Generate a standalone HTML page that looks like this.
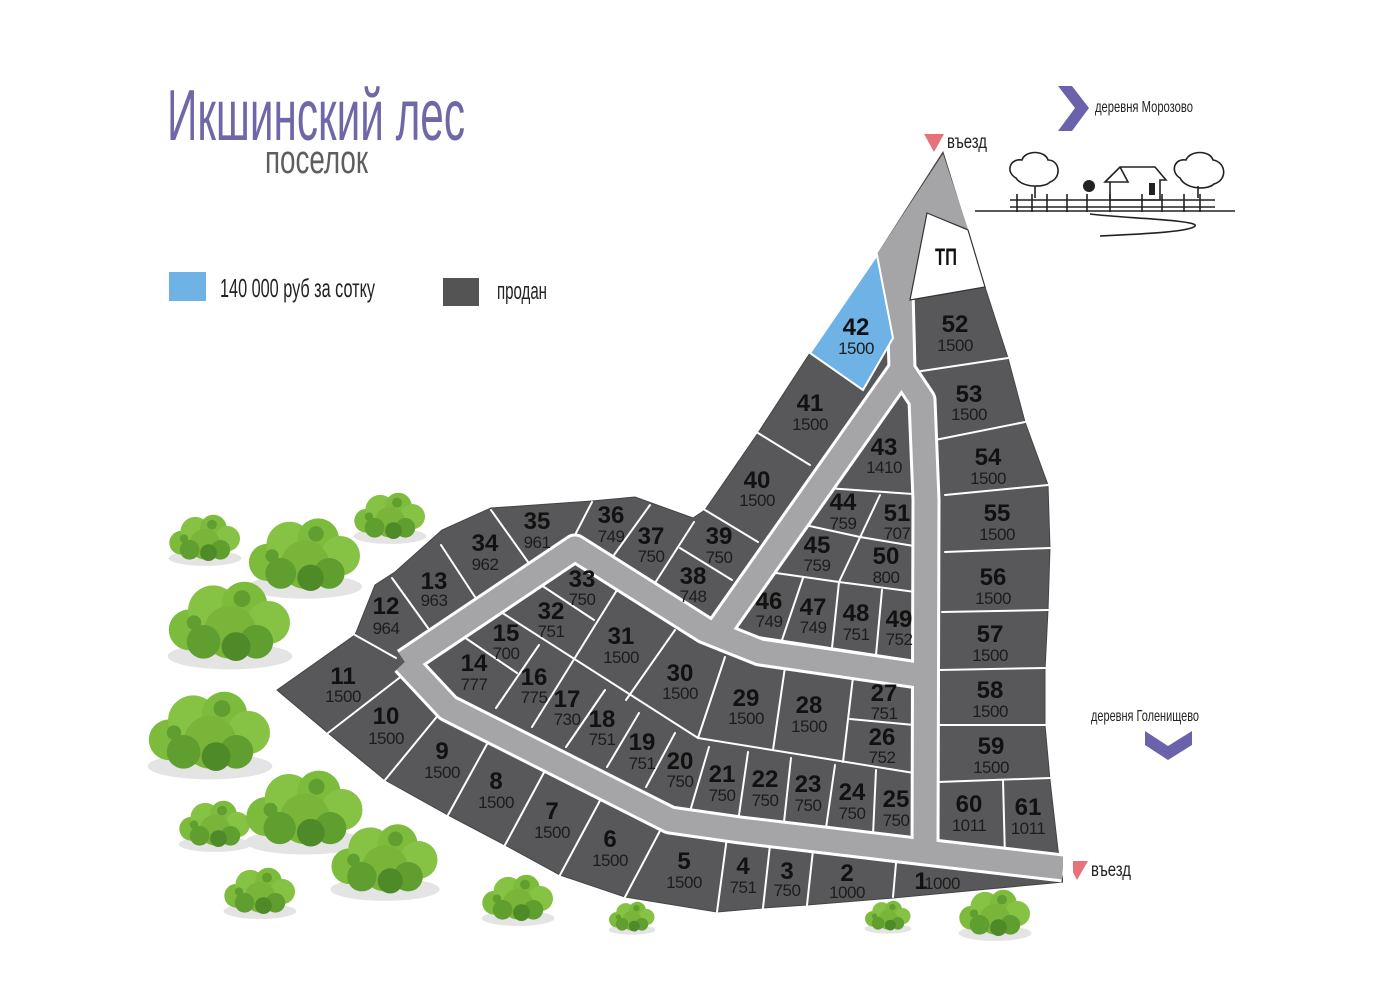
<!DOCTYPE html>
<html><head><meta charset="utf-8">
<style>
html,body{margin:0;padding:0;background:#fff;}
svg{display:block;}
.n{font-family:"Liberation Sans Narrow","Liberation Sans",sans-serif;font-weight:bold;font-size:24px;fill:#111;text-anchor:middle;}
.a{font-family:"Liberation Sans Narrow","Liberation Sans",sans-serif;font-size:17px;fill:#1c1c1c;text-anchor:middle;letter-spacing:-0.5px;}
.t{font-family:"Liberation Sans Narrow","Liberation Sans",sans-serif;}
</style></head>
<body>
<svg width="1396" height="991" viewBox="0 0 1396 991" xmlns="http://www.w3.org/2000/svg">
<defs>
<g id="bush">
<ellipse cx="0" cy="26" rx="52" ry="11" fill="#e4e4e4"/>
<circle cx="-34" cy="4" r="17" fill="#7dbb3d"/>
<circle cx="-14" cy="-12" r="21" fill="#86c243"/>
<circle cx="12" cy="-17" r="19" fill="#7dbb3d"/>
<circle cx="32" cy="-2" r="18" fill="#86c243"/>
<circle cx="0" cy="6" r="22" fill="#7ab53a"/>
<circle cx="-22" cy="14" r="14" fill="#5f9e2f"/>
<circle cx="22" cy="14" r="14" fill="#5f9e2f"/>
<circle cx="5" cy="18" r="12" fill="#4f8a28"/>
<circle cx="10" cy="-22" r="7" fill="#5f9e2f"/>
<circle cx="-30" cy="-2" r="6" fill="#5f9e2f"/>
</g>
</defs>

<text class="t" x="167" y="140" font-size="72" fill="#6f68a8" textLength="298" lengthAdjust="spacingAndGlyphs">Икшинский лес</text>
<text class="t" x="265" y="173" font-size="40" fill="#5e5e5e" textLength="103" lengthAdjust="spacingAndGlyphs">поселок</text>

<rect x="169" y="272" width="37" height="29" fill="#6fb3e6"/>
<text class="t" x="220" y="297" font-size="26" fill="#222" textLength="155" lengthAdjust="spacingAndGlyphs">140 000 руб за сотку</text>
<rect x="443" y="278" width="36" height="28" fill="#545454"/>
<text class="t" x="497" y="299" font-size="24" fill="#222" textLength="50" lengthAdjust="spacingAndGlyphs">продан</text>

<polygon points="1058,86 1072,86 1089,108 1072,131 1058,131 1075,108" fill="#6a63ab"/>
<text class="t" x="1095" y="112" font-size="16" fill="#222" textLength="98" lengthAdjust="spacingAndGlyphs">деревня Морозово</text>
<text class="t" x="1091" y="721" font-size="16" fill="#222" textLength="108" lengthAdjust="spacingAndGlyphs">деревня Голенищево</text>
<polygon points="1145,731 1168,746 1192,731 1192,745 1168,760 1145,745" fill="#6a63ab"/>

<g fill="none" stroke="#222" stroke-width="1.6">
<path d="M975,211 L1235,211"/>
<path d="M1010,200 L1215,200 M1010,207 L1215,207"/>
<path d="M1017,194 V212 M1032,194 V212 M1047,194 V212 M1067,194 V212 M1087,194 V212 M1110,194 V212 M1142,194 V212 M1162,194 V212 M1184,194 V212 M1200,194 V212"/>
<path d="M1105,182 L1120,167 L1155,167 L1166,180 L1160,180 L1160,200 L1110,200 L1110,182 Z M1120,167 L1128,182 L1110,182"/>
<path d="M1016,178 C1005,172 1010,158 1022,160 C1025,150 1045,150 1048,160 C1060,160 1062,178 1050,182 C1045,188 1022,188 1016,178 Z M1035,186 V198"/>
<path d="M1180,178 C1170,172 1174,158 1186,160 C1190,150 1210,150 1213,160 C1226,162 1228,180 1214,184 C1208,190 1186,190 1180,178 Z M1198,186 V198"/>
<path d="M1090,214 C1120,218 1200,220 1195,226 C1190,232 1140,234 1100,236"/>
</g>
<rect x="1149" y="183" width="6" height="12" fill="#222"/>
<circle cx="1089" cy="186" r="6" fill="#222"/>

<polygon points="924,134 944,134 934,152" fill="#e8727c"/>
<text class="t" x="947" y="148" font-size="19" fill="#222" textLength="40" lengthAdjust="spacingAndGlyphs">въезд</text>
<polygon points="1067,861 1088,861 1077,880" fill="#e8727c"/>
<text class="t" x="1091" y="876" font-size="19" fill="#222" textLength="40" lengthAdjust="spacingAndGlyphs">въезд</text>

<use href="#bush" transform="translate(205,540) scale(0.7)"/>
<use href="#bush" transform="translate(305,558) scale(1.1)"/>
<use href="#bush" transform="translate(390,518) scale(0.7)"/>
<use href="#bush" transform="translate(230,625) scale(1.2)"/>
<use href="#bush" transform="translate(210,735) scale(1.2)"/>
<use href="#bush" transform="translate(215,826) scale(0.7)"/>
<use href="#bush" transform="translate(305,812) scale(1.15)"/>
<use href="#bush" transform="translate(385,862) scale(1.05)"/>
<use href="#bush" transform="translate(260,893) scale(0.7)"/>
<use href="#bush" transform="translate(518,900) scale(0.7)"/>
<use href="#bush" transform="translate(632,918) scale(0.45)"/>
<use href="#bush" transform="translate(888,917) scale(0.45)"/>
<use href="#bush" transform="translate(995,915) scale(0.7)"/>

<polygon fill="#58585a" stroke="#444" stroke-width="1"
points="943,152 985,287 1008,358 1025,422 1048,485 1050,548 1048,610 1045,670 1045,725 1050,780 1058,850 1063,882 893,898 807,905 763,908 717,912 625,897 560,875 505,845 448,815 385,780 328,733 277,690 355,635 375,585 395,572 442,530 491,508 592,501 635,497 693,518 705,510 758,433 810,353 877,255"/>

<g stroke="#fff" stroke-width="2" fill="none" stroke-linecap="round">
<path d="M915,372 L1008,358 M935,440 L1025,422 M945,495 L1048,485 M945,552 L1050,548 M942,612 L1048,610 M940,670 L1045,668 M940,725 L1045,725 M938,782 L1050,778 M1003,780 L1005,858"/>
<path d="M826,488 L928,495 M805,525 L860,537 L926,548 M880,495 L839,582 M769,572 L839,582 L923,593 M803,578 L782,640 M839,582 L832,648 M882,590 L876,655 M732,633 L909,660"/>
<path d="M617,590 L532,727 M541,585 L594,620 M490,605 L698,738 M464,637 L517,673 M539,645 L496,708 M605,690 L566,747 M639,713 L607,767 M675,733 L646,787 M675,630 L626,700 M725,657 L698,738 M785,667 L773,750 M853,677 L843,762 M850,719 L914,725 M698,738 L914,773 M709,747 L691,808 M748,752 L739,815 M791,758 L784,822 M835,765 L826,828 M876,770 L873,835"/>
<path d="M355,635 L396,658 M392,578 L428,628 M441,545 L475,597 M491,510 L528,562 M592,502 L576,533 M650,505 L614,555 M694,522 L655,583 M680,548 L732,580 M705,510 L758,542 M758,433 L810,465"/>
<path d="M328,733 L403,675 M444,708 L385,780 M492,735 L448,815 M548,765 L505,845 M603,795 L560,875 M662,827 L625,897 M727,837 L717,912 M770,845 L763,908 M813,850 L807,905 M896,863 L893,897"/>
</g>

<g fill="none" stroke-linejoin="round" stroke-linecap="butt">
<g stroke="#fff" stroke-width="29">
<path d="M900,372 L716,634"/>
<path d="M900,290 L902,370 L922,400 L926,500 L925,852"/>
<path d="M405,662 L575,548 L705,630 L760,652 L925,676"/>
<path d="M405,662 L448,708 L670,820 L740,830 L925,852 L1063,868"/>
</g>
<g stroke="#a5a5a7" stroke-width="23">
<path d="M900,372 L716,634"/>
<path d="M900,290 L902,370 L922,400 L926,500 L925,852"/>
<path d="M405,662 L575,548 L705,630 L760,652 L925,676"/>
<path d="M405,662 L448,708 L670,820 L740,830 L925,852 L1063,868"/>
</g>
</g>
<polygon points="877,254 943,154 968,229 927,213 910,300 889,300 893,338" fill="#a5a5a7"/>
<rect x="1063" y="850" width="10" height="40" fill="#fff"/>

<polygon points="927,213 968,230 985,287 910,300" fill="#fff" stroke="#333" stroke-width="1.2"/>
<polygon points="810,353 877,255 893,338 863,390" fill="#6fb3e6" stroke="#fff" stroke-width="2"/>
<text class="n" x="946" y="265" textLength="22" lengthAdjust="spacingAndGlyphs">ТП</text>

<g>
<text class="n" x="343" y="684">11</text><text class="a" x="343" y="702">1500</text>
<text class="n" x="386" y="724">10</text><text class="a" x="386" y="744">1500</text>
<text class="n" x="442" y="759">9</text><text class="a" x="442" y="778">1500</text>
<text class="n" x="496" y="789">8</text><text class="a" x="496" y="808">1500</text>
<text class="n" x="552" y="819">7</text><text class="a" x="552" y="838">1500</text>
<text class="n" x="610" y="847">6</text><text class="a" x="610" y="866">1500</text>
<text class="n" x="684" y="869">5</text><text class="a" x="684" y="888">1500</text>
<text class="n" x="743" y="874">4</text><text class="a" x="743" y="893">751</text>
<text class="n" x="787" y="879">3</text><text class="a" x="787" y="896">750</text>
<text class="n" x="847" y="881">2</text><text class="a" x="847" y="898">1000</text>
<text class="n" x="921" y="889">1</text><text class="a" x="942" y="889">1000</text>
<text class="n" x="386" y="614">12</text><text class="a" x="386" y="634">964</text>
<text class="n" x="434" y="589">13</text><text class="a" x="434" y="606">963</text>
<text class="n" x="485" y="551">34</text><text class="a" x="485" y="570">962</text>
<text class="n" x="537" y="529">35</text><text class="a" x="537" y="548">961</text>
<text class="n" x="611" y="523">36</text><text class="a" x="611" y="542">749</text>
<text class="n" x="651" y="544">37</text><text class="a" x="651" y="562">750</text>
<text class="n" x="693" y="584">38</text><text class="a" x="693" y="602">748</text>
<text class="n" x="719" y="544">39</text><text class="a" x="719" y="563">750</text>
<text class="n" x="757" y="488">40</text><text class="a" x="757" y="506">1500</text>
<text class="n" x="810" y="411">41</text><text class="a" x="810" y="430">1500</text>
<text class="n" x="856" y="335">42</text><text class="a" x="856" y="354">1500</text>
<text class="n" x="884" y="455">43</text><text class="a" x="884" y="473">1410</text>
<text class="n" x="843" y="510">44</text><text class="a" x="843" y="529">759</text>
<text class="n" x="897" y="521">51</text><text class="a" x="897" y="539">707</text>
<text class="n" x="817" y="553">45</text><text class="a" x="817" y="571">759</text>
<text class="n" x="886" y="564">50</text><text class="a" x="886" y="583">800</text>
<text class="n" x="769" y="609">46</text><text class="a" x="769" y="627">749</text>
<text class="n" x="813" y="615">47</text><text class="a" x="813" y="633">749</text>
<text class="n" x="856" y="621">48</text><text class="a" x="856" y="640">751</text>
<text class="n" x="899" y="627">49</text><text class="a" x="899" y="645">752</text>
<text class="n" x="582" y="587">33</text><text class="a" x="582" y="605">750</text>
<text class="n" x="551" y="619">32</text><text class="a" x="551" y="637">751</text>
<text class="n" x="506" y="641">15</text><text class="a" x="506" y="659">700</text>
<text class="n" x="474" y="671">14</text><text class="a" x="474" y="690">777</text>
<text class="n" x="534" y="685">16</text><text class="a" x="534" y="703">775</text>
<text class="n" x="567" y="707">17</text><text class="a" x="567" y="725">730</text>
<text class="n" x="621" y="644">31</text><text class="a" x="621" y="663">1500</text>
<text class="n" x="680" y="681">30</text><text class="a" x="680" y="699">1500</text>
<text class="n" x="602" y="727">18</text><text class="a" x="602" y="745">751</text>
<text class="n" x="642" y="750">19</text><text class="a" x="642" y="769">751</text>
<text class="n" x="746" y="706">29</text><text class="a" x="746" y="724">1500</text>
<text class="n" x="809" y="713">28</text><text class="a" x="809" y="732">1500</text>
<text class="n" x="884" y="701">27</text><text class="a" x="884" y="719">751</text>
<text class="n" x="882" y="745">26</text><text class="a" x="882" y="763">752</text>
<text class="n" x="680" y="769">20</text><text class="a" x="680" y="787">750</text>
<text class="n" x="722" y="782">21</text><text class="a" x="722" y="801">750</text>
<text class="n" x="765" y="787">22</text><text class="a" x="765" y="806">750</text>
<text class="n" x="808" y="792">23</text><text class="a" x="808" y="811">750</text>
<text class="n" x="852" y="800">24</text><text class="a" x="852" y="819">750</text>
<text class="n" x="896" y="807">25</text><text class="a" x="896" y="826">750</text>
<text class="n" x="955" y="332">52</text><text class="a" x="955" y="351">1500</text>
<text class="n" x="969" y="402">53</text><text class="a" x="969" y="420">1500</text>
<text class="n" x="988" y="465">54</text><text class="a" x="988" y="484">1500</text>
<text class="n" x="997" y="521">55</text><text class="a" x="997" y="540">1500</text>
<text class="n" x="993" y="585">56</text><text class="a" x="993" y="604">1500</text>
<text class="n" x="990" y="642">57</text><text class="a" x="990" y="661">1500</text>
<text class="n" x="990" y="698">58</text><text class="a" x="990" y="717">1500</text>
<text class="n" x="991" y="754">59</text><text class="a" x="991" y="773">1500</text>
<text class="n" x="969" y="812">60</text><text class="a" x="969" y="831">1011</text>
<text class="n" x="1028" y="815">61</text><text class="a" x="1028" y="834">1011</text>
</g>
</svg>
</body></html>
